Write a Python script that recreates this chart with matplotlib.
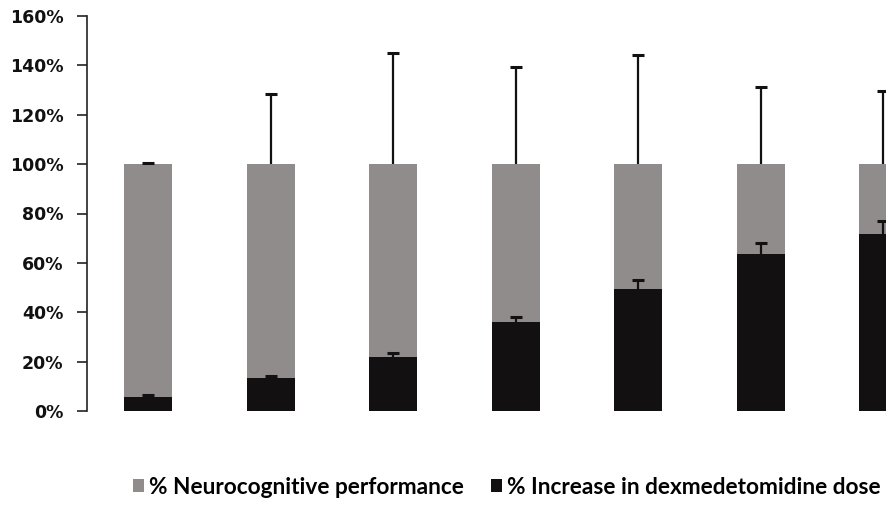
import numpy as np
import matplotlib.pyplot as plt
from matplotlib.ticker import PercentFormatter

# mean % increase in dose per step, with its SD (upper only)
dose_increase = [5.8, 13.2, 22.0, 36.2, 49.4, 63.7, 71.7]
dose_sd = [0.8, 0.8, 1.6, 2.0, 3.5, 4.2, 5.2]
# neurocognitive performance fills the rest of the 100% stack
cog_sd = [0.5, 28.3, 45.2, 39.4, 44.4, 31.1, 29.7]
y_ticks = [0, 20, 40, 60, 80, 100, 120, 140, 160]

cognitive = [100 - d for d in dose_increase]
x = np.arange(len(dose_increase))

gray = "#918c8c"
black = "#121010"
err_style = dict(ecolor=black, elinewidth=1.6, capsize=4.5, capthick=2.2)

fig = plt.figure(figsize=(8.87, 5.08), dpi=100)
# axes runs a bit past the right edge, last bar gets clipped
ax = fig.add_axes([87 / 887, 97 / 508, 857.5 / 887, 395 / 508])

b1 = ax.bar(x, dose_increase, width=0.39, color=black,
            yerr=[np.zeros(len(x)), dose_sd], error_kw=err_style,
            label="% Increase in dexmedetomidine dose", zorder=2)
b2 = ax.bar(x, cognitive, width=0.39, bottom=dose_increase, color=gray,
            yerr=[np.zeros(len(x)), cog_sd], error_kw=err_style,
            label="% Neurocognitive performance", zorder=2)

# one-sided error bars: hide the caps at the bottom end
for b in (b1, b2):
    caps = b.errorbar.lines[1]
    caps[0].set_visible(False)

ax.set_xlim(-0.5, 6.5)
ax.set_ylim(0, 160)
ax.set_yticks(y_ticks)
ax.yaxis.set_major_formatter(PercentFormatter(decimals=0))
ax.set_xticks([])
for s in ["top", "right", "bottom"]:
    ax.spines[s].set_visible(False)
ax.spines["left"].set_linewidth(1.2)
ax.spines["left"].set_color("#222222")
ax.tick_params(axis="y", length=7, width=1.2, color="#222222", pad=10,
               labelsize=12.5)
for lbl in ax.get_yticklabels():
    lbl.set_fontweight("bold")
    lbl.set_color("#111111")

handles, labels = ax.get_legend_handles_labels()
fig.legend(handles[::-1], labels[::-1], loc="center", ncol=2,
           bbox_to_anchor=(0.571, 0.041), frameon=False,
           prop=dict(family="Lato", weight="bold", size=16.3),
           handlelength=0.5, handleheight=0.5, handletextpad=0.2,
           columnspacing=1.2, borderaxespad=0)

fig.savefig("out.png", dpi=100)
